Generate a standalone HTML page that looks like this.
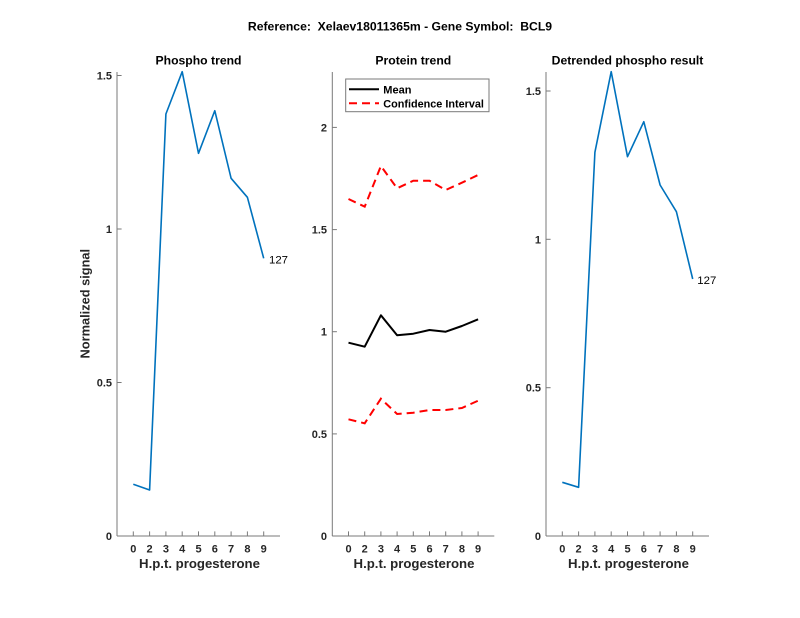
<!DOCTYPE html>
<html>
<head>
<meta charset="utf-8">
<style>
html,body{margin:0;padding:0;background:#fff;}
svg{display:block;}
text{font-family:"Liberation Sans",Arial,sans-serif;}
</style>
</head>
<body>
<svg width="800" height="618" viewBox="0 0 800 618" xmlns="http://www.w3.org/2000/svg">
<rect width="800" height="618" fill="#fff"/>

<!-- Main title -->
<text x="400" y="30.5" font-size="12.2" font-weight="bold" text-anchor="middle" fill="#000" xml:space="preserve" style="white-space:pre">Reference:  Xelaev18011365m - Gene Symbol:  BCL9</text>

<!-- ============ Panel 1 ============ -->
<g>
  <text x="198.5" y="64.5" font-size="12.2" font-weight="bold" text-anchor="middle" fill="#000">Phospho trend</text>
  <line x1="117" y1="72" x2="117" y2="536" stroke="#7a7a7a" stroke-width="1"/>
  <line x1="117" y1="536" x2="280" y2="536" stroke="#7a7a7a" stroke-width="1"/>
  <g stroke="#7a7a7a" stroke-width="1">
    <line x1="117" y1="536" x2="121.6" y2="536"/>
    <line x1="117" y1="382.5" x2="121.6" y2="382.5"/>
    <line x1="117" y1="229" x2="121.6" y2="229"/>
    <line x1="117" y1="75.5" x2="121.6" y2="75.5"/>
  </g>
  <g font-size="11" font-weight="bold" fill="#262626" text-anchor="end">
    <text x="112" y="540">0</text>
    <text x="112" y="386.5">0.5</text>
    <text x="112" y="233">1</text>
    <text x="112" y="79.5">1.5</text>
  </g>
  <g stroke="#7a7a7a" stroke-width="1">
    <line x1="133.3" y1="536" x2="133.3" y2="531.4"/>
    <line x1="149.6" y1="536" x2="149.6" y2="531.4"/>
    <line x1="165.9" y1="536" x2="165.9" y2="531.4"/>
    <line x1="182.2" y1="536" x2="182.2" y2="531.4"/>
    <line x1="198.5" y1="536" x2="198.5" y2="531.4"/>
    <line x1="214.8" y1="536" x2="214.8" y2="531.4"/>
    <line x1="231.1" y1="536" x2="231.1" y2="531.4"/>
    <line x1="247.4" y1="536" x2="247.4" y2="531.4"/>
    <line x1="263.7" y1="536" x2="263.7" y2="531.4"/>
  </g>
  <g font-size="11" font-weight="bold" fill="#262626" text-anchor="middle">
    <text x="133.3" y="552.5">0</text>
    <text x="149.6" y="552.5">2</text>
    <text x="165.9" y="552.5">3</text>
    <text x="182.2" y="552.5">4</text>
    <text x="198.5" y="552.5">5</text>
    <text x="214.8" y="552.5">6</text>
    <text x="231.1" y="552.5">7</text>
    <text x="247.4" y="552.5">8</text>
    <text x="263.7" y="552.5">9</text>
  </g>
  <text x="199.5" y="568" font-size="13.2" font-weight="bold" fill="#262626" text-anchor="middle">H.p.t. progesterone</text>
  <text transform="translate(89.5,303.7) rotate(-90)" font-size="12.8" font-weight="bold" fill="#262626" text-anchor="middle">Normalized signal</text>
  <polyline fill="none" stroke="#0072BD" stroke-width="1.6" stroke-linejoin="round"
    points="133.3,484.3 149.6,490 165.9,114 182.2,71.7 198.5,153.3 214.8,110.7 231.1,178.3 247.4,197.3 263.7,258.3"/>
  <text x="269" y="263.3" font-size="11.4" fill="#000">127</text>
</g>

<!-- ============ Panel 2 ============ -->
<g>
  <text x="413.3" y="64.5" font-size="12.2" font-weight="bold" text-anchor="middle" fill="#000">Protein trend</text>
  <line x1="332.3" y1="72" x2="332.3" y2="536" stroke="#7a7a7a" stroke-width="1"/>
  <line x1="332.3" y1="536" x2="494.3" y2="536" stroke="#7a7a7a" stroke-width="1"/>
  <g stroke="#7a7a7a" stroke-width="1">
    <line x1="332.3" y1="536" x2="336.9" y2="536"/>
    <line x1="332.3" y1="433.9" x2="336.9" y2="433.9"/>
    <line x1="332.3" y1="331.7" x2="336.9" y2="331.7"/>
    <line x1="332.3" y1="229.6" x2="336.9" y2="229.6"/>
    <line x1="332.3" y1="127.4" x2="336.9" y2="127.4"/>
  </g>
  <g font-size="11" font-weight="bold" fill="#262626" text-anchor="end">
    <text x="327" y="540">0</text>
    <text x="327" y="437.9">0.5</text>
    <text x="327" y="335.7">1</text>
    <text x="327" y="233.6">1.5</text>
    <text x="327" y="131.4">2</text>
  </g>
  <g stroke="#7a7a7a" stroke-width="1">
    <line x1="348.5" y1="536" x2="348.5" y2="531.4"/>
    <line x1="364.7" y1="536" x2="364.7" y2="531.4"/>
    <line x1="380.9" y1="536" x2="380.9" y2="531.4"/>
    <line x1="397.1" y1="536" x2="397.1" y2="531.4"/>
    <line x1="413.3" y1="536" x2="413.3" y2="531.4"/>
    <line x1="429.5" y1="536" x2="429.5" y2="531.4"/>
    <line x1="445.7" y1="536" x2="445.7" y2="531.4"/>
    <line x1="461.9" y1="536" x2="461.9" y2="531.4"/>
    <line x1="478.1" y1="536" x2="478.1" y2="531.4"/>
  </g>
  <g font-size="11" font-weight="bold" fill="#262626" text-anchor="middle">
    <text x="348.5" y="552.5">0</text>
    <text x="364.7" y="552.5">2</text>
    <text x="380.9" y="552.5">3</text>
    <text x="397.1" y="552.5">4</text>
    <text x="413.3" y="552.5">5</text>
    <text x="429.5" y="552.5">6</text>
    <text x="445.7" y="552.5">7</text>
    <text x="461.9" y="552.5">8</text>
    <text x="478.1" y="552.5">9</text>
  </g>
  <text x="414" y="568" font-size="13.2" font-weight="bold" fill="#262626" text-anchor="middle">H.p.t. progesterone</text>
  <polyline fill="none" stroke="#000" stroke-width="2" stroke-linejoin="round"
    points="348.5,342.7 364.7,346.7 380.9,315.3 397.1,335.3 413.3,333.7 429.5,330 445.7,331.7 461.9,326 478.1,319.3"/>
  <polyline fill="none" stroke="#FF0000" stroke-width="2" stroke-dasharray="8 5"
    points="348.5,199 364.7,206.7 380.9,166 397.1,188.3 413.3,180.7 429.5,180.7 445.7,190 461.9,182.7 478.1,175"/>
  <polyline fill="none" stroke="#FF0000" stroke-width="2" stroke-dasharray="8 5"
    points="348.5,419.3 364.7,423.3 380.9,398.7 397.1,414 413.3,412.7 429.5,410 445.7,410 461.9,408 478.1,400.7"/>
  <rect x="345.7" y="79" width="143.3" height="32.7" fill="#fff" stroke="#7a7a7a" stroke-width="1"/>
  <line x1="349" y1="89.3" x2="379" y2="89.3" stroke="#000" stroke-width="2"/>
  <line x1="349" y1="103.3" x2="379" y2="103.3" stroke="#FF0000" stroke-width="2" stroke-dasharray="8 5"/>
  <text x="383.3" y="93.3" font-size="11" font-weight="bold" fill="#000">Mean</text>
  <text x="383.3" y="107.3" font-size="10.85" font-weight="bold" fill="#000">Confidence Interval</text>
</g>

<!-- ============ Panel 3 ============ -->
<g>
  <text x="627.5" y="64.5" font-size="12.2" font-weight="bold" text-anchor="middle" fill="#000">Detrended phospho result</text>
  <line x1="546" y1="72" x2="546" y2="536" stroke="#7a7a7a" stroke-width="1"/>
  <line x1="546" y1="536" x2="709" y2="536" stroke="#7a7a7a" stroke-width="1"/>
  <g stroke="#7a7a7a" stroke-width="1">
    <line x1="546" y1="536" x2="550.6" y2="536"/>
    <line x1="546" y1="387.7" x2="550.6" y2="387.7"/>
    <line x1="546" y1="239.3" x2="550.6" y2="239.3"/>
    <line x1="546" y1="91" x2="550.6" y2="91"/>
  </g>
  <g font-size="11" font-weight="bold" fill="#262626" text-anchor="end">
    <text x="541" y="540">0</text>
    <text x="541" y="391.7">0.5</text>
    <text x="541" y="243.3">1</text>
    <text x="541" y="95">1.5</text>
  </g>
  <g stroke="#7a7a7a" stroke-width="1">
    <line x1="562.3" y1="536" x2="562.3" y2="531.4"/>
    <line x1="578.6" y1="536" x2="578.6" y2="531.4"/>
    <line x1="594.9" y1="536" x2="594.9" y2="531.4"/>
    <line x1="611.2" y1="536" x2="611.2" y2="531.4"/>
    <line x1="627.5" y1="536" x2="627.5" y2="531.4"/>
    <line x1="643.8" y1="536" x2="643.8" y2="531.4"/>
    <line x1="660.1" y1="536" x2="660.1" y2="531.4"/>
    <line x1="676.4" y1="536" x2="676.4" y2="531.4"/>
    <line x1="692.7" y1="536" x2="692.7" y2="531.4"/>
  </g>
  <g font-size="11" font-weight="bold" fill="#262626" text-anchor="middle">
    <text x="562.3" y="552.5">0</text>
    <text x="578.6" y="552.5">2</text>
    <text x="594.9" y="552.5">3</text>
    <text x="611.2" y="552.5">4</text>
    <text x="627.5" y="552.5">5</text>
    <text x="643.8" y="552.5">6</text>
    <text x="660.1" y="552.5">7</text>
    <text x="676.4" y="552.5">8</text>
    <text x="692.7" y="552.5">9</text>
  </g>
  <text x="628.5" y="568" font-size="13.2" font-weight="bold" fill="#262626" text-anchor="middle">H.p.t. progesterone</text>
  <polyline fill="none" stroke="#0072BD" stroke-width="1.6" stroke-linejoin="round"
    points="562.3,482.3 578.6,487.3 594.9,152.3 611.2,71.7 627.5,156.7 643.8,121.7 660.1,185 676.4,211.7 692.7,279"/>
  <text x="697.3" y="284" font-size="11.4" fill="#000">127</text>
</g>
</svg>
</body>
</html>
